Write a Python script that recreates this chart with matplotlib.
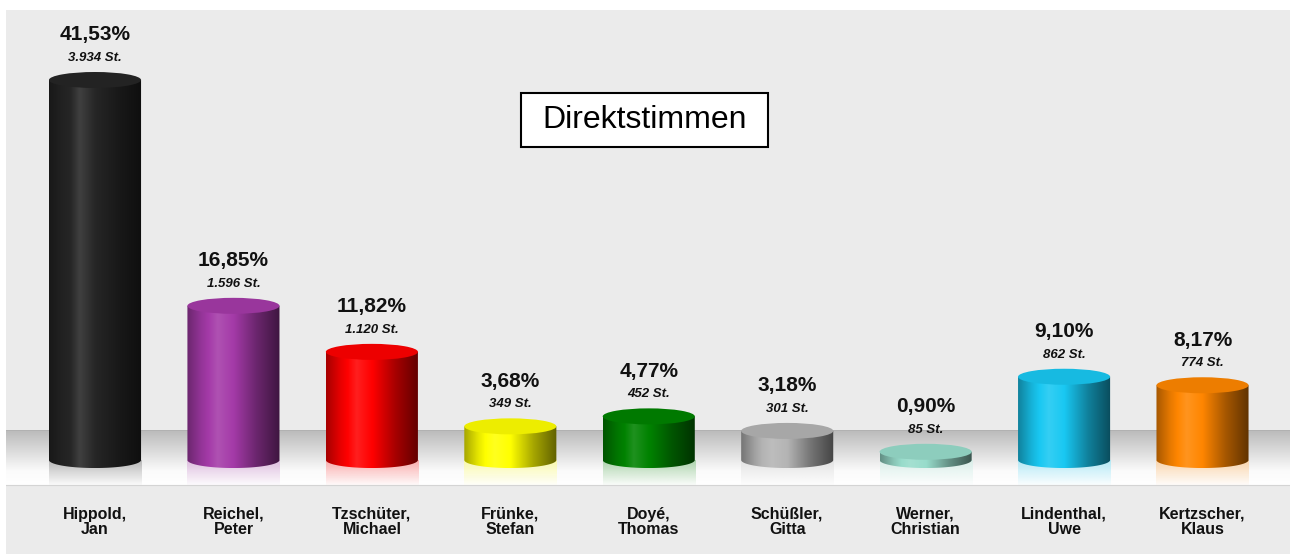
import numpy as np
import matplotlib
matplotlib.use('Agg')
import matplotlib.pyplot as plt
from matplotlib.path import Path
from matplotlib.patches import PathPatch, Ellipse, Rectangle
from matplotlib.colors import to_rgb

plt.rcParams['font.family'] = ['Liberation Sans', 'DejaVu Sans']

# election results (Direktstimmen)
surnames = ['Hippold', 'Reichel', 'Tzschüter', 'Frünke', 'Doyé',
            'Schüßler', 'Werner', 'Lindenthal', 'Kertzscher']
firstnames = ['Jan', 'Peter', 'Michael', 'Stefan', 'Thomas',
              'Gitta', 'Christian', 'Uwe', 'Klaus']
percent = [41.53, 16.85, 11.82, 3.68, 4.77, 3.18, 0.90, 9.10, 8.17]
votes = [3934, 1596, 1120, 349, 452, 301, 85, 862, 774]
colors = ['#262626', '#a43aa8', '#ff0000', '#ffff00', '#008200',
          '#b4b4b4', '#98dccb', '#19c8f2', '#ff8600']

W, H = 1293, 554
fig = plt.figure(figsize=(W / 100, H / 100), dpi=100)
fig.patch.set_facecolor('white')
ax = fig.add_axes([6 / W, 0, 1284 / W, 544 / H])
ax.set_facecolor('#ebebeb')
for s in ax.spines.values():
    s.set_visible(False)
ax.set_xticks([])
ax.set_yticks([])

xmin, xmax = -0.643, 8.632
ymin, ymax = -10.27, 49.18
bw = 0.665      # bar width in data units
hh = 0.875      # half height of ellipses
floor_top, floor_bot = 3.28, -2.73

# floor band with gradient
g = np.linspace(0, 1, 120)
lev = np.interp(g, [0, 0.75, 1], [0.73, 0.985, 1.0])
floor_img = np.repeat(lev[:, None, None], 3, axis=2)
ax.imshow(floor_img, extent=[xmin, xmax, floor_bot, floor_top],
          aspect='auto', interpolation='bilinear', zorder=1)
ax.axhline(floor_bot, color='#d4d4d4', lw=0.8, zorder=1.5)
ax.axhline(floor_top, color='#b0b0b0', lw=0.6, zorder=1.5)


def mix(c, t):
    c = np.asarray(c)
    if t >= 0:
        return c + (1 - c) * t
    return c * (1 + t)


u = np.linspace(0, 1, 200)
prof = np.interp(u, [0, 0.15, 0.33, 0.5, 0.75, 1.0],
                 [-0.35, -0.1, 0.12, 0.0, -0.35, -0.62])

for i, (v, c) in enumerate(zip(percent, colors)):
    base = np.array(to_rgb(c))
    x0, x1 = i - bw / 2, i + bw / 2

    # reflection on the floor
    r = np.linspace(0, 1, 60)
    refl = np.zeros((60, 1, 4))
    refl[:, 0, :3] = mix(base, 0.6)
    refl[:, 0, 3] = np.interp(r, [0, 1], [0.75, 0.05])
    ax.imshow(refl, extent=[x0, x1, floor_bot, 0], aspect='auto',
              interpolation='bilinear', zorder=2)

    # cylinder body
    ang = np.linspace(np.pi, 2 * np.pi, 60)
    arc = np.column_stack([i + bw / 2 * np.cos(ang), hh * np.sin(ang)])
    verts = np.vstack([[x0, v], [x0, 0], arc, [x1, 0], [x1, v], [x0, v]])
    clip = PathPatch(Path(verts), facecolor='none', edgecolor='none',
                     transform=ax.transData)
    ax.add_patch(clip)
    body = np.array([mix(base, t) for t in prof])[None, :, :]
    im = ax.imshow(body, extent=[x0, x1, -hh, v], aspect='auto',
                   interpolation='bilinear', zorder=3)
    im.set_clip_path(clip)

    # top face
    ax.add_patch(Ellipse((i, v), bw, 2 * hh, facecolor=mix(base, -0.07),
                         edgecolor='none', zorder=4))

    # value labels
    pct = f'{v:.2f}'.replace('.', ',') + '%'
    st = f'{votes[i]:,}'.replace(',', '.') + ' St.'
    ax.annotate(pct, (i, v), xytext=(0, 32.5), textcoords='offset points',
                ha='center', va='center', fontsize=15, fontweight='bold',
                color='#111111', zorder=5)
    ax.annotate(st, (i, v), xytext=(0, 16), textcoords='offset points',
                ha='center', va='center', fontsize=9.5, fontweight='bold',
                fontstyle='italic', color='#111111', zorder=5)

    # candidate names
    ax.text(i, -5.9, surnames[i] + ',', ha='center', va='center',
            fontsize=11.5, fontweight='bold', color='#111111')
    ax.text(i, -7.55, firstnames[i], ha='center', va='center',
            fontsize=11.5, fontweight='bold', color='#111111')

# title box
ax.add_patch(Rectangle((0.401, 0.748), 0.1924, 0.0993, transform=ax.transAxes,
                       facecolor='white', edgecolor='black', lw=1.5, zorder=6))
ax.text(0.497, 0.798, 'Direktstimmen', transform=ax.transAxes, ha='center',
        va='center', fontsize=23, color='black', zorder=7)

ax.set_xlim(xmin, xmax)
ax.set_ylim(ymin, ymax)

fig.savefig('out.png', dpi=100)
